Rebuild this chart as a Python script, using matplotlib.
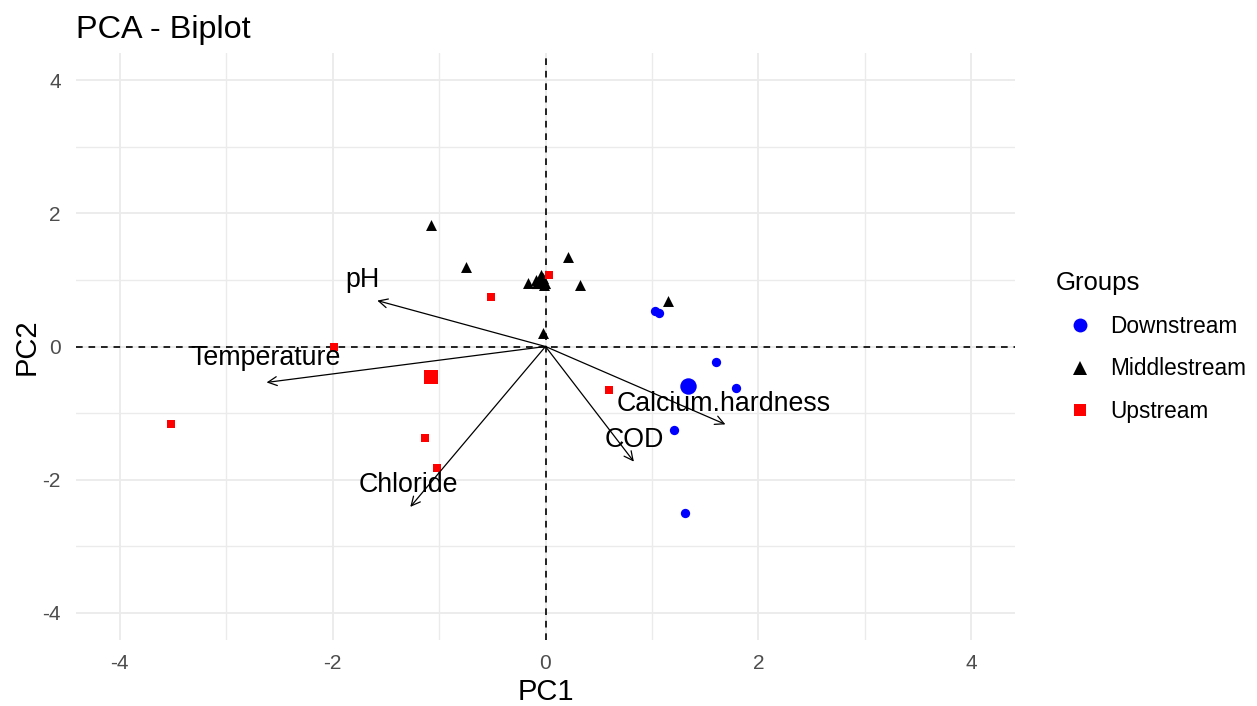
import numpy as np
import matplotlib.pyplot as plt
from matplotlib.lines import Line2D

plt.rcParams['font.family'] = ['Liberation Sans', 'DejaVu Sans']
plt.rcParams['axes.unicode_minus'] = False

# individual scores on the first two components, per sampling group
downstream_pc1 = [1.03, 1.07, 1.60, 1.79, 1.21, 1.31]
downstream_pc2 = [0.53, 0.50, -0.24, -0.62, -1.25, -2.50]

middlestream_pc1 = [-1.08, -0.75, 0.21, 0.32, 1.15, -0.02, -0.16, -0.09, -0.02, -0.01]
middlestream_pc2 = [1.83, 1.19, 1.34, 0.93, 0.68, 0.21, 0.96, 1.00, 1.03, 0.93]

upstream_pc1 = [0.03, -0.51, -1.99, -3.52, -1.13, -1.02, 0.60]
upstream_pc2 = [1.07, 0.74, 0.00, -1.17, -1.38, -1.82, -0.65]

# variable loadings (arrow tips) and their label positions
variables = ['pH', 'Temperature', 'Chloride', 'COD', 'Calcium.hardness']
var_pc1 = [-1.58, -2.62, -1.27, 0.83, 1.69]
var_pc2 = [0.69, -0.54, -2.41, -1.73, -1.17]
label_pc1 = [-1.72, -2.63, -1.29, 0.83, 1.67]
label_pc2 = [1.00, -0.17, -2.08, -1.40, -0.86]

groups = ['Downstream', 'Middlestream', 'Upstream']
ticks = [-4, -2, 0, 2, 4]

W, H = 1257, 706
fig = plt.figure(figsize=(W / 100, H / 100), dpi=100)
ax = fig.add_axes([76 / W, 1 - 640 / H, (1015 - 76) / W, (640 - 53) / H])

lim = 4.41
ax.set_xlim(-lim, lim)
ax.set_ylim(-lim, lim)

# grid (theme_minimal look)
ax.set_xticks(ticks)
ax.set_yticks(ticks)
ax.set_xticks([-3, -1, 1, 3], minor=True)
ax.set_yticks([-3, -1, 1, 3], minor=True)
ax.grid(which='major', color='#EBEBEB', lw=1.3, zorder=0)
ax.grid(which='minor', color='#EBEBEB', lw=1.0, zorder=0)
ax.set_axisbelow(True)
for s in ax.spines.values():
    s.set_visible(False)
ax.tick_params(which='both', length=0)
ax.tick_params(axis='x', pad=10, labelsize=15, labelcolor='#4D4D4D')
ax.tick_params(axis='y', pad=11, labelsize=15, labelcolor='#4D4D4D')

ax.axhline(0, color='black', ls=(0, (4, 3.5)), lw=1.2, zorder=1)
ax.axvline(0, color='black', ls=(0, (4, 3.5)), lw=1.2, zorder=1)

# points and group means
styles = {
    'Downstream': dict(marker='o', color='#0000FF', s=45, big=140),
    'Middlestream': dict(marker='^', color='black', s=62, big=190),
    'Upstream': dict(marker='s', color='#FF0000', s=34, big=115),
}
data = {
    'Downstream': (downstream_pc1, downstream_pc2),
    'Middlestream': (middlestream_pc1, middlestream_pc2),
    'Upstream': (upstream_pc1, upstream_pc2),
}
for g in groups:
    x, y = data[g]
    st = styles[g]
    ax.scatter(x, y, marker=st['marker'], color=st['color'], s=st['s'],
               linewidths=0, zorder=3)
    ax.scatter([np.mean(x)], [np.mean(y)], marker=st['marker'], color=st['color'],
               s=st['big'], linewidths=0, zorder=3)

# variable arrows
for name, vx, vy, lx, ly in zip(variables, var_pc1, var_pc2, label_pc1, label_pc2):
    ax.annotate('', xy=(vx, vy), xytext=(0, 0),
                arrowprops=dict(arrowstyle='->', color='black', lw=0.9,
                                mutation_scale=16, shrinkA=0, shrinkB=0),
                zorder=4)
    ax.text(lx, ly, name, fontsize=19.3, color='black', ha='center', va='center', zorder=5)

ax.set_title('PCA - Biplot', loc='left', fontsize=23.3, pad=11, color='black')
ax.set_xlabel('PC1', fontsize=21, va='center')
ax.xaxis.set_label_coords(0.5, -(692 - 640) / 587)
ax.set_ylabel('PC2', fontsize=21, va='center')
ax.yaxis.set_label_coords(-(76 - 27) / 939, 0.5)

handles = [Line2D([], [], ls='none', marker=styles[g]['marker'], color=styles[g]['color'],
                  markersize=10 if g != 'Upstream' else 9, markeredgewidth=0)
           for g in groups]
leg = fig.legend(handles, groups, title='Groups', loc='upper left',
                 bbox_to_anchor=(1047 / W, 1 - 262 / H), frameon=False,
                 fontsize=16.3, title_fontsize=18.5, handlelength=2.1,
                 handletextpad=0.3, labelspacing=0.87, borderaxespad=0)
leg._legend_box.align = 'left'

fig.savefig('out.png', dpi=100)
